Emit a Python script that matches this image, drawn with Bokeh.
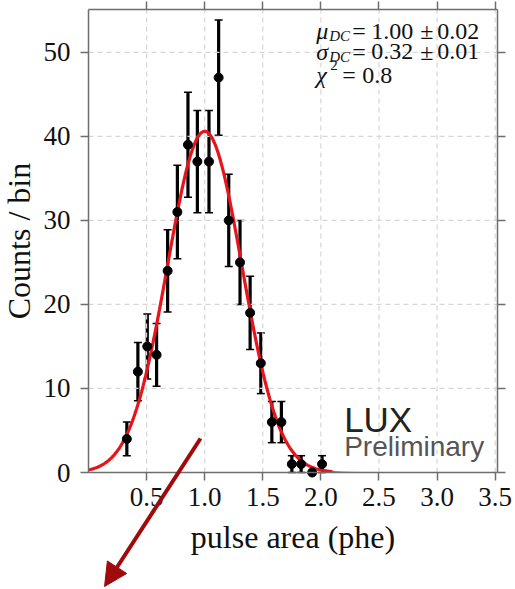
import numpy as np
from bokeh.plotting import figure
from bokeh.core.properties import value
from bokeh.models import (ColumnDataSource, Whisker, TeeHead, Arrow, NormalHead,
                          Label, LinearAxis, FixedTicker, CustomJSTickFormatter,
                          NumeralTickFormatter, Range1d)
from bokeh.embed import file_html
from bokeh.resources import INLINE

# Dark-count pulse-area spectrum (counts per bin) with Poisson errors
pulse_area = [0.33, 0.425, 0.506, 0.586, 0.681, 0.765, 0.856, 0.937, 1.037, 1.12,
              1.207, 1.304, 1.391, 1.483, 1.578, 1.66, 1.75, 1.83, 1.925, 2.01]
counts = [4, 12, 15, 14, 24, 31, 39, 37, 37, 47,
          30, 25, 19, 13, 6, 6, 1, 1, 0, 1]
errors = [2.0, 3.46, 3.87, 3.74, 4.9, 5.57, 6.24, 6.08, 6.08, 6.86,
          5.48, 5.0, 4.36, 3.61, 2.45, 2.45, 1.0, 1.0, 0.0, 1.0]

# Gaussian fit parameters
mu_dc = 1.00
sigma_dc = 0.32
fit_amp = 40.6

x_ticks = [0.5, 1.0, 1.5, 2.0, 2.5, 3.0, 3.5]
y_ticks = [0, 10, 20, 30, 40, 50]

# plotting box in data units
X_MAX, Y_MAX = 3.52, 55.1

# canvas size and the margins around the plotting box (pixels)
W, H = 515, 589
M_LEFT, M_RIGHT, M_TOP, M_BOTTOM = 88, 18, 9, 117

SERIF = "Liberation Serif, Times New Roman, serif"
SANS = "Liberation Sans, Arial, sans-serif"
INK = "#111111"
FIT_RED = "#e8141b"
ARROW_RED = "#a00a0a"
FRAME_GREY = "#6e6e6e"
GRID_GREY = "#d6d6d6"

# The frame spans the whole canvas so the pointer arrow can run across the
# axis area; the axes sit at fixed data locations around the plotting box.
ppx = (W - M_LEFT - M_RIGHT) / X_MAX
ppy = (H - M_TOP - M_BOTTOM) / Y_MAX
x_range = Range1d(-M_LEFT / ppx, X_MAX + M_RIGHT / ppx)
y_range = Range1d(-M_BOTTOM / ppy, Y_MAX + M_TOP / ppy)

p = figure(width=W, height=H, output_backend="svg", toolbar_location=None,
           x_range=x_range, y_range=y_range,
           x_axis_location=None, y_axis_location=None,
           min_border=0, min_border_left=0, min_border_right=0,
           min_border_top=0, min_border_bottom=0,
           background_fill_color="white", border_fill_color="white")
p.outline_line_color = None
p.grid.visible = False


def style_axis(ax):
    ax.axis_line_color = FRAME_GREY
    ax.axis_line_width = 1.5
    ax.major_tick_line_color = FRAME_GREY
    ax.major_tick_line_width = 1.5
    ax.major_tick_out = 8
    ax.major_tick_in = 0
    ax.minor_tick_line_color = None


x_axis = LinearAxis(fixed_location=0, bounds=(0, X_MAX),
                    ticker=FixedTicker(ticks=x_ticks),
                    formatter=NumeralTickFormatter(format="0.0"),
                    axis_label="pulse area (phe)")
y_axis = LinearAxis(fixed_location=0, bounds=(0, Y_MAX),
                    ticker=FixedTicker(ticks=y_ticks),
                    axis_label="Counts / bin")
for ax in (x_axis, y_axis):
    style_axis(ax)
    ax.major_label_text_font = SERIF
    ax.major_label_text_font_size = "27px"
    ax.major_label_text_color = INK
    ax.axis_label_text_font = SERIF
    ax.axis_label_text_font_size = "32px"
    ax.axis_label_text_font_style = "normal"
    ax.axis_label_text_color = INK
x_axis.major_label_standoff = 7
x_axis.axis_label_standoff = 10
y_axis.major_label_standoff = 10
y_axis.axis_label_standoff = 4
p.add_layout(x_axis, "below")
p.add_layout(y_axis, "left")

# mirrored tick marks on top and right, no labels
blank = CustomJSTickFormatter(code="return ''")
top_ax = LinearAxis(fixed_location=Y_MAX, bounds=(0, X_MAX),
                    ticker=FixedTicker(ticks=x_ticks), formatter=blank)
right_ax = LinearAxis(fixed_location=X_MAX, bounds=(0, Y_MAX),
                      ticker=FixedTicker(ticks=y_ticks), formatter=blank)
for ax in (top_ax, right_ax):
    style_axis(ax)
    ax.major_label_text_font_size = "1px"
    ax.major_label_standoff = 0
p.add_layout(top_ax, "above")
p.add_layout(right_ax, "right")

# dashed grid confined to the plotting box
p.segment(x0=x_ticks, y0=[0] * len(x_ticks), x1=x_ticks, y1=[Y_MAX] * len(x_ticks),
          line_color=GRID_GREY, line_dash="5 4", line_width=1.2)
p.segment(x0=[0] * len(y_ticks), y0=y_ticks, x1=[X_MAX] * len(y_ticks), y1=y_ticks,
          line_color=GRID_GREY, line_dash="5 4", line_width=1.2)

# fitted Gaussian (thick over the populated region, thin tail to the edge)
xf = np.linspace(0.0, 2.1, 300)
yf = fit_amp * np.exp(-0.5 * ((xf - mu_dc) / sigma_dc) ** 2)
p.line(xf, yf, line_color=FIT_RED, line_width=3.2)
xt = np.linspace(2.1, 3.5, 100)
yt = fit_amp * np.exp(-0.5 * ((xt - mu_dc) / sigma_dc) ** 2)
p.line(xt, yt, line_color=FIT_RED, line_width=1)

# data with error bars
src = ColumnDataSource(dict(
    x=pulse_area, y=counts,
    lo=[c - e for c, e in zip(counts, errors)],
    hi=[c + e for c, e in zip(counts, errors)],
))
wh = Whisker(source=src, base="x", lower="lo", upper="hi", dimension="height",
             line_color="black", line_width=3.2,
             upper_head=TeeHead(size=8, line_color="black", line_width=1.5),
             lower_head=TeeHead(size=8, line_color="black", line_width=1.5))
p.add_layout(wh)
p.scatter("x", "y", source=src, size=9, fill_color="black", line_color="black")


# fit results, set token by token with pixel offsets (y downwards) from one anchor
def token(text, dx, dy, size=24, style="normal"):
    p.text(x=[1.96], y=[52.54], text=[text], x_offset=dx, y_offset=dy,
           text_font=value(SERIF), text_font_style=style,
           text_font_size=f"{size}px", text_color=INK,
           text_align="left", text_baseline="middle")


for dy, sym, vals in ((0, "\u03bc", ("1.00", "0.02")), (20.5, "\u03c3", ("0.32", "0.01"))):
    token(sym, 0, dy, style="italic")
    token("DC", 13, dy + 5, size=15, style="italic")
    token("=", 36, dy)
    token(vals[0], 55, dy)
    token("\u00b1", 104, dy)
    token(vals[1], 121, dy)
token("\u03c7", 0, 44, style="italic")
token("2", 14, 34, size=15)
token("=", 26, 44)
token("0.8", 46, 44)

# experiment tag
p.add_layout(Label(x=2.2, y=6.3, text="LUX", text_font=SANS, text_font_size="35px",
                   text_color="#222222", text_baseline="middle"))
p.add_layout(Label(x=2.2, y=3.1, text="Preliminary", text_font=SANS,
                   text_font_size="28px", text_color="#555555", text_baseline="middle"))

# pointer arrow
ARROW_FROM = (0.964, 4.05)
ARROW_TO = (0.138, -13.57)
p.add_layout(Arrow(x_start=ARROW_FROM[0], y_start=ARROW_FROM[1],
                   x_end=ARROW_TO[0], y_end=ARROW_TO[1],
                   line_color=ARROW_RED, line_width=4,
                   end=NormalHead(size=23, fill_color=ARROW_RED, line_color=ARROW_RED,
                                  line_width=1)))

open("out.html", "w").write(file_html(p, INLINE))
